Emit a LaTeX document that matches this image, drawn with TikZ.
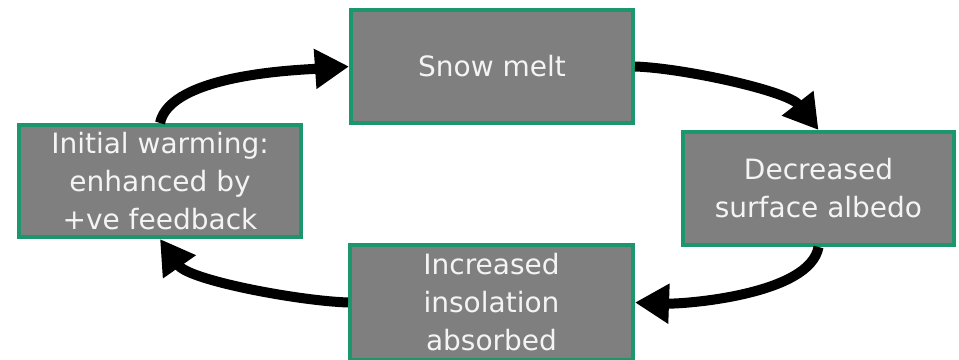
\documentclass[tikz,border=0pt]{standalone}
\usepackage{fontspec}
\setmainfont{DejaVu Sans}
\usetikzlibrary{arrows.meta}
\definecolor{boxgreen}{RGB}{28,150,108}
\definecolor{boxgray}{RGB}{127,127,127}
\definecolor{boxtext}{RGB}{244,244,244}
\tikzset{
  cyclebox/.style={draw=boxgreen, line width=4pt, fill=boxgray, text=boxtext,
    align=center, inner sep=0pt, font=\fontsize{28}{38}\selectfont},
  fbarrow/.style={line width=10pt, draw=black,
    -{Triangle[length=34pt,width=38pt]}}
}
\begin{document}
\begin{tikzpicture}[x=1pt,y=1pt]
\useasboundingbox (0,0) rectangle (959,359);
\node[cyclebox, minimum width=282pt, minimum height=112pt] (init) at (160,178)
  {Initial warming:\\enhanced by\\+ve feedback};
\node[cyclebox, minimum width=282pt, minimum height=113pt] (snow) at (492,292.5)
  {Snow melt};
\node[cyclebox, minimum width=271pt, minimum height=113pt] (decr) at (818.5,170.5)
  {Decreased\\surface albedo};
\node[cyclebox, minimum width=283pt, minimum height=115pt] (incr) at (491.5,56.5)
  {Increased\\insolation\\absorbed};
\draw[fbarrow] (init.north) to[out=78, in=184, looseness=0.65] (snow.west);
\draw[fbarrow] (snow.east) to[out=-2, in=128, looseness=0.65] (decr.north);
\draw[fbarrow] (decr.south) to[out=-100, in=-2, looseness=0.65] (incr.east);
\draw[fbarrow] (incr.west) to[out=178, in=-55, looseness=0.65] (init.south);
\end{tikzpicture}
\end{document}
